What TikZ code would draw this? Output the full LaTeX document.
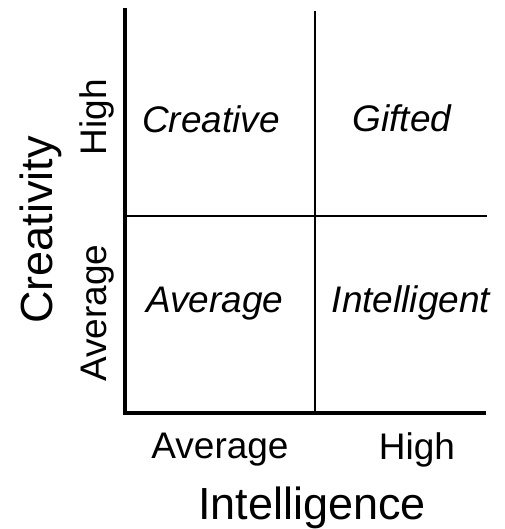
\documentclass[tikz,border=0pt]{standalone}
\usepackage{fontspec}
\setmainfont{Liberation Sans}
\usetikzlibrary{positioning}
\tikzset{
    % Quadrant label style
    quadnode/.style={
        inner sep=0pt,
        anchor=base,
        font=\fontsize{18.5}{22}\selectfont\itshape
    },
    % Axis level label style
    levelnode/.style={
        inner sep=0pt,
        anchor=base,
        font=\fontsize{18.5}{22}\selectfont
    },
    % Axis title style
    titlenode/.style={
        inner sep=0pt,
        anchor=base,
        font=\fontsize{22.5}{27}\selectfont
    },
    % Axis line style
    axisline/.style={
        line width=2pt,
        line join=miter,
        draw=black
    },
    % Dividing line style
    gridline/.style={
        line width=1.3pt,
        draw=black
    }
}
\begin{document}
\begin{tikzpicture}[x=0.5pt, y=-0.5pt]
    \useasboundingbox (0,0) rectangle (504,529);
    \coordinate (ytop) at (125,8);
    \coordinate (origin) at (125,413);
    \coordinate (xend) at (486,413);
    \coordinate (midtop) at (315,11);
    \coordinate (midbot) at (315,413);
    \coordinate (midleft) at (125,216);
    \coordinate (midright) at (487,216);

    \draw[gridline] (midtop) -- (midbot);
    \draw[gridline] (midleft) -- (midright);
    \draw[axisline] (ytop) -- (origin) -- (xend);

    \node[quadnode] (creative) at (211,133) {Creative};
    \node[quadnode] (gifted) at (402,132) {Gifted};
    \node[quadnode] (average) at (215,312) {Average};
    \node[quadnode] (intelligent) at (411,312) {Intelligent};

    \node[levelnode] (xavg) at (220,458) {Average};
    \node[levelnode] (xhigh) at (417,459) {High};
    \node[levelnode, rotate=90] (yhigh) at (106,117) {High};
    \node[levelnode, rotate=90] (yavg) at (106,313) {Average};

    \node[titlenode] (xtitle) at (312,519) {Intelligence};
    \node[titlenode, rotate=90] (ytitle) at (52,230) {Creativity};
\end{tikzpicture}
\end{document}
